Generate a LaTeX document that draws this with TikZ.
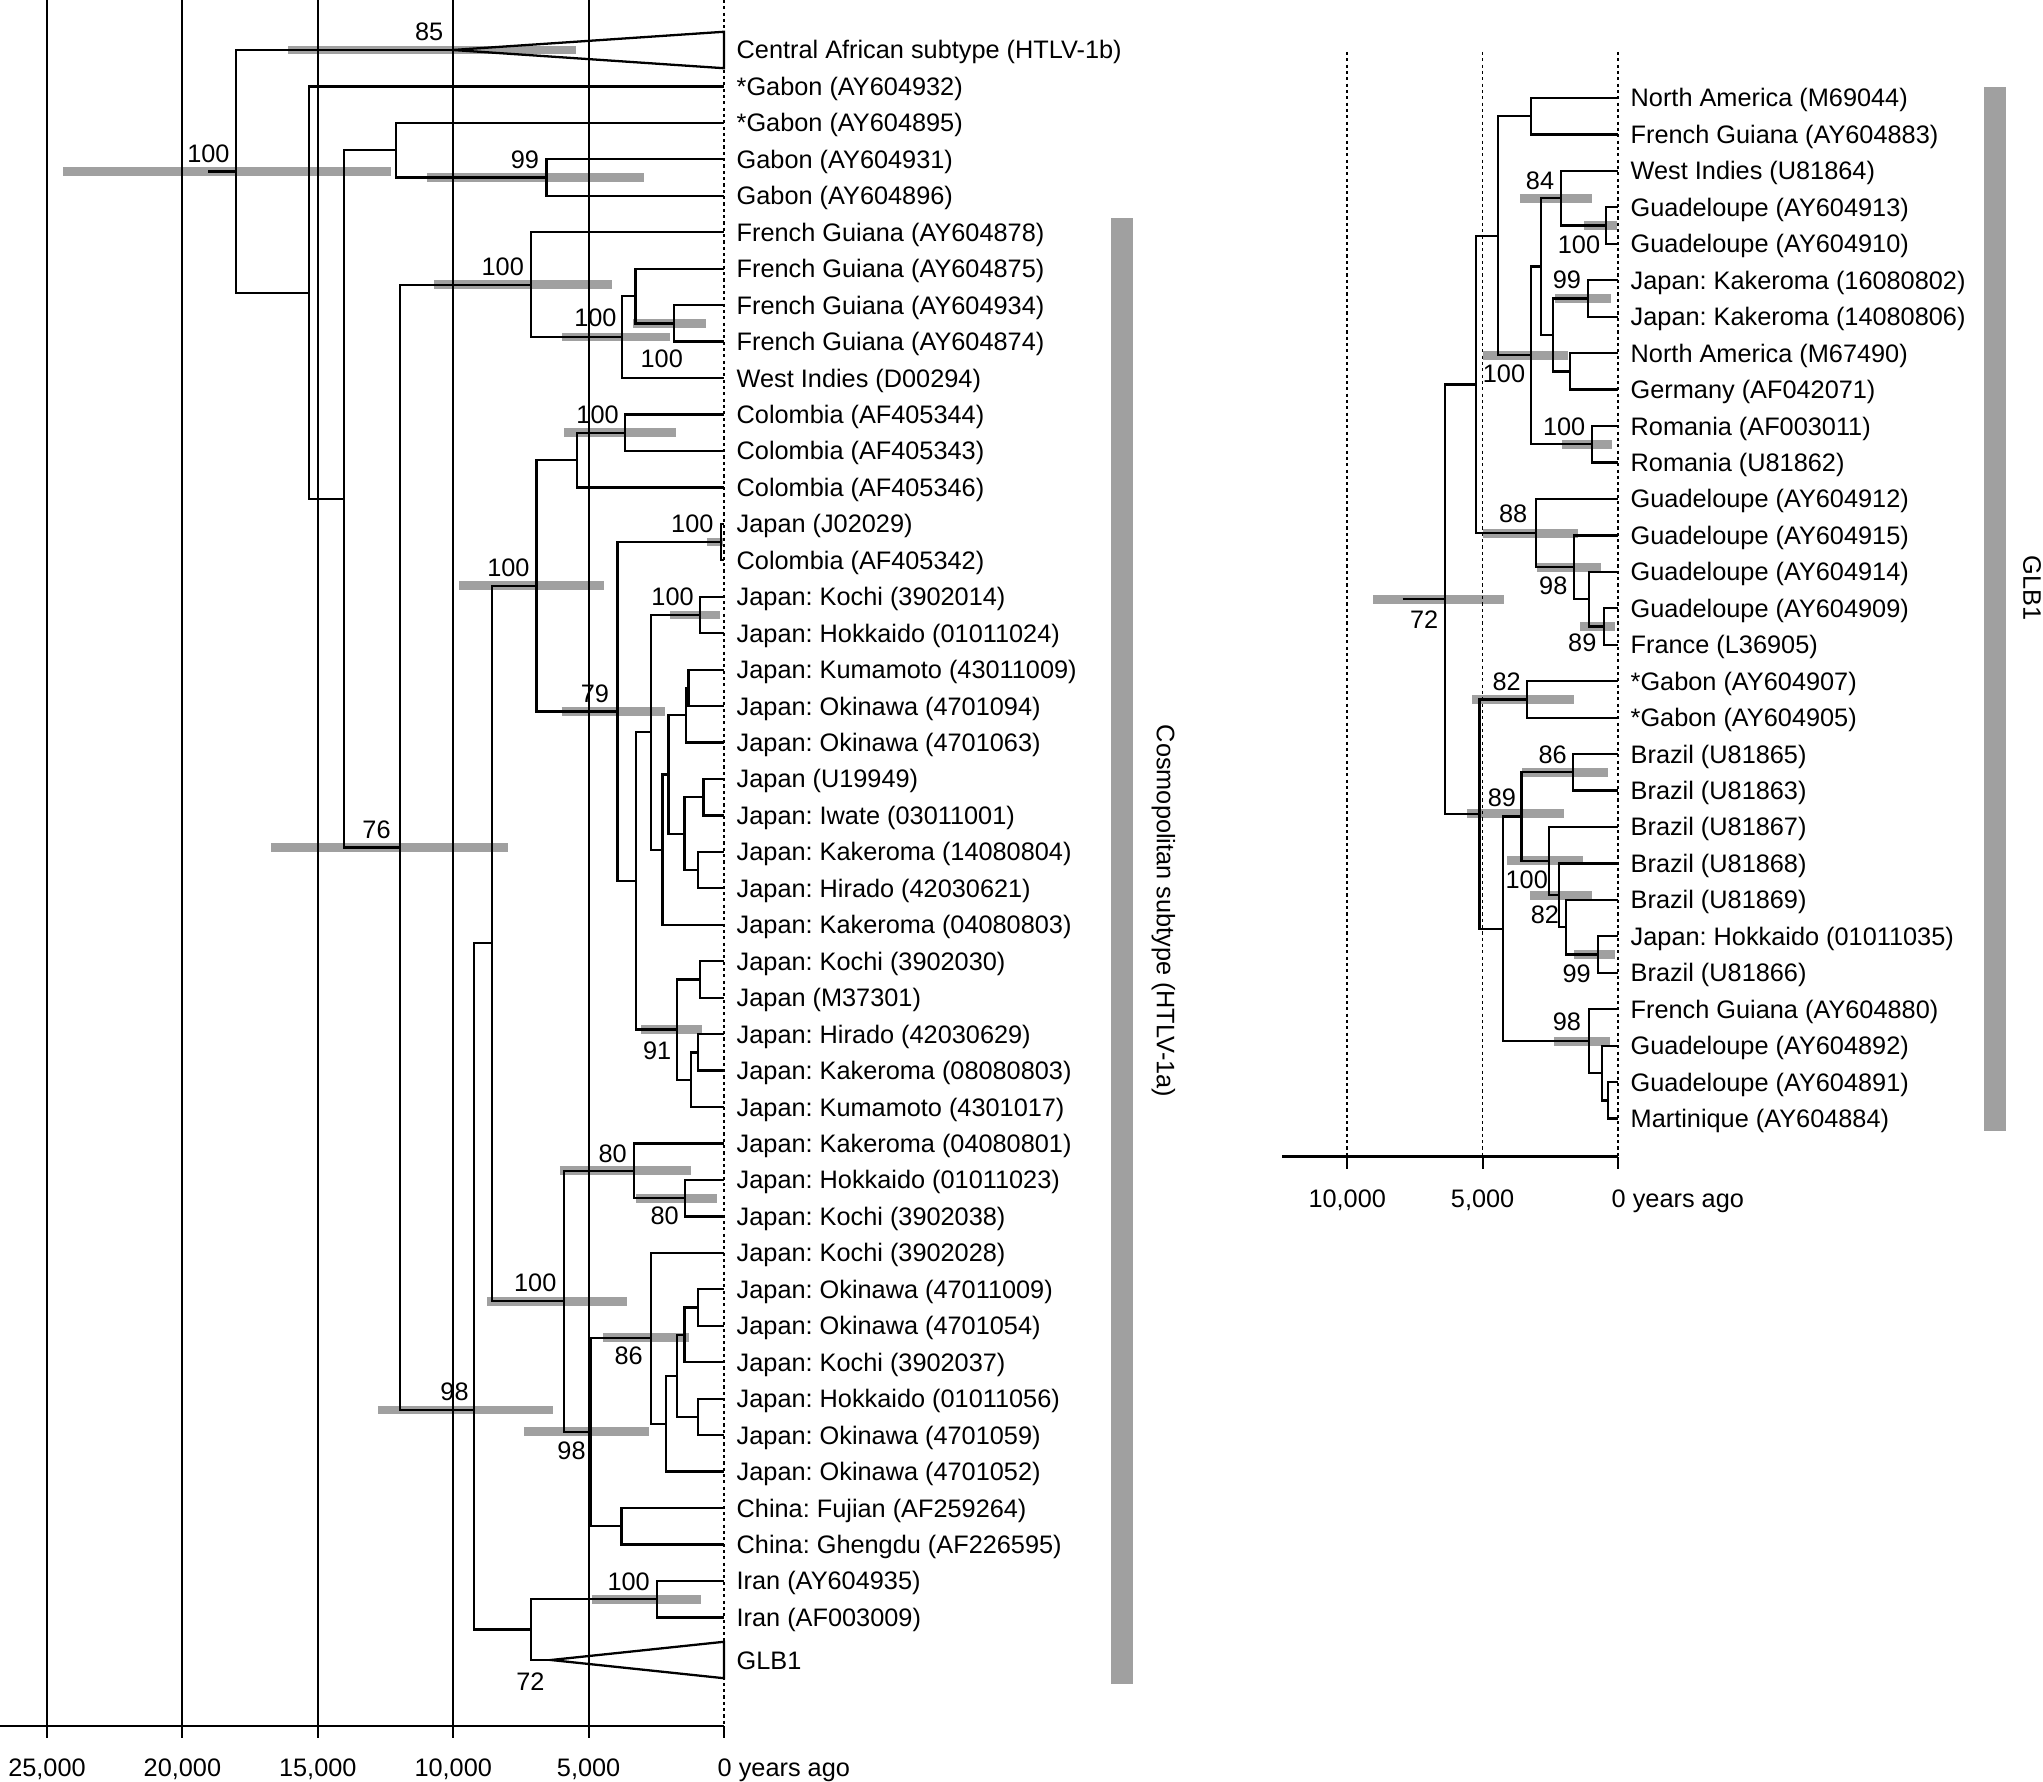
\documentclass[tikz,border=0pt]{standalone}
\usepackage{fontspec}
\setmainfont{Liberation Sans}
\frenchspacing
\definecolor{hpdgrey}{RGB}{160,160,160}
\tikzset{
  lefttree/.style={shift={(7.24cm,-0.1355cm)},x={(-0.2708cm,0cm)},y={(0cm,-0.3645cm)}},
  righttree/.style={shift={(16.18cm,-0.6155cm)},x={(-0.2708cm,0cm)},y={(0cm,-0.3645cm)}},
  branch/.style={line width=0.65pt},
  hpd/.style={hpdgrey,line width=0.088cm},
  gridline/.style={line width=0.6pt},
  zeroline/.style={line width=0.5pt,dash pattern=on 0.9pt off 0.9pt},
  axisline/.style={line width=0.75pt},
  taxon/.style={anchor=base west,xshift=0.12cm,yshift=-0.09cm},
  support/.style={anchor=center},
  ticklab/.style={anchor=base},
}

\begin{document}
\begin{tikzpicture}[every node/.style={inner sep=0pt,font=\fontsize{7.2}{8.6}\selectfont}]
\useasboundingbox (0,0) rectangle (20.43,-17.82);

% left tree: nodes (age in kyr, row) and HPD bars
\begin{scope}[lefttree]
  \foreach \i in {1,...,44} \coordinate (L\i) at (0,\i);
  \coordinate (L45) at (0,45.17);
  \coordinate (rootstub) at (19.05,4.33);
  \coordinate (root) at (18.02,4.33);
  \coordinate (ca) at (10.01,1);
  \coordinate (n2) at (15.33,7.66);
  \coordinate (n3) at (14.03,13.31);
  \coordinate (n4) at (12.11,3.75);
  \coordinate (n99) at (6.56,4.5);
  \coordinate (n76) at (11.96,22.88);
  \coordinate (nfg) at (7.13,7.44);
  \coordinate (nfg2) at (3.77,8.875);
  \coordinate (nfg3) at (3.27,7.75);
  \coordinate (nfg4) at (1.85,8.5);
  \coordinate (n98) at (9.23,38.31);
  \coordinate (nx) at (8.57,25.5);
  \coordinate (n100b) at (6.92,15.7);
  \coordinate (ncol) at (5.42,12.25);
  \coordinate (n100d) at (3.66,11.5);
  \coordinate (n79) at (3.93,19.15);
  \coordinate (n100e) at (0.12,14.5);
  \coordinate (nA) at (3.24,23.8);
  \coordinate (nB) at (2.69,19.72);
  \coordinate (n100f) at (0.89,16.5);
  \coordinate (nC) at (2.27,22.94);
  \coordinate (nD) at (2.05,20.875);
  \coordinate (nE2) at (1.40,19.25);
  \coordinate (nE1) at (1.31,18.5);
  \coordinate (nF) at (1.46,22.5);
  \coordinate (nG) at (0.76,21.5);
  \coordinate (nH) at (0.95,23.5);
  \coordinate (n91) at (1.74,27.87);
  \coordinate (nI) at (0.89,26.5);
  \coordinate (nJ) at (1.22,29.25);
  \coordinate (nK) at (0.95,28.5);
  \coordinate (n100c) at (5.91,35.33);
  \coordinate (n80a) at (3.33,31.75);
  \coordinate (n80b) at (1.44,32.5);
  \coordinate (n98b) at (4.9,38.91);
  \coordinate (n86) at (2.7,36.33);
  \coordinate (nL) at (2.14,38.69);
  \coordinate (nM) at (1.74,37.375);
  \coordinate (nO) at (1.46,36.25);
  \coordinate (nN) at (0.95,35.5);
  \coordinate (nP) at (0.95,38.5);
  \coordinate (nchina) at (3.79,41.5);
  \coordinate (n72) at (7.14,44.33);
  \coordinate (n100g) at (2.48,43.5);
  \coordinate (glb) at (6.39,45.17);
  \foreach \a/\b/\r in {24.41/12.3/4.33, 16.1/5.47/1, 10.98/2.97/4.5, 16.73/7.99/22.88,
      10.71/4.13/7.44, 5.98/2.01/8.875, 3.36/0.66/8.5, 12.78/6.3/38.31, 9.79/4.43/15.7,
      5.91/1.77/11.5, 6.0/2.18/19.15, 0.63/0.04/14.5, 1.99/0.15/16.5, 3.06/0.8/27.87,
      8.75/3.59/35.33, 6.06/1.22/31.75, 3.25/0.26/32.5, 7.39/2.78/38.91, 4.47/1.31/36.33,
      4.89/0.85/43.5}
    \draw[hpd] (\a,\r) -- (\b,\r);
\end{scope}

% right tree (GLB1): nodes and HPD bars
\begin{scope}[righttree]
  \foreach \i in {1,...,29} \coordinate (R\i) at (0,\i);
  \coordinate (rstub) at (7.95,14.75);
  \coordinate (rroot) at (6.39,14.75);
  \coordinate (ru) at (5.24,8.86);
  \coordinate (ru1) at (4.42,4.78);
  \coordinate (ra) at (3.22,1.5);
  \coordinate (rb) at (3.22,8.06);
  \coordinate (rc) at (2.84,5.625);
  \coordinate (r84) at (2.1,3.75);
  \coordinate (r100a) at (0.45,4.5);
  \coordinate (rd) at (2.39,7.5);
  \coordinate (r99) at (1.12,6.5);
  \coordinate (re) at (1.77,8.5);
  \coordinate (r100b) at (0.97,10.5);
  \coordinate (r88) at (3.04,12.94);
  \coordinate (r98) at (1.62,13.875);
  \coordinate (rf) at (1.07,14.75);
  \coordinate (r89) at (0.51,15.5);
  \coordinate (rl) at (5.12,20.64);
  \coordinate (r82) at (3.37,17.5);
  \coordinate (rg) at (4.26,23.79);
  \coordinate (rh) at (3.56,20.715);
  \coordinate (r86) at (1.65,19.5);
  \coordinate (r100c) at (2.55,21.93);
  \coordinate (r82b) at (2.17,22.875);
  \coordinate (ri) at (1.93,23.75);
  \coordinate (r99b) at (0.73,24.5);
  \coordinate (r98b) at (1.06,26.875);
  \coordinate (rj) at (0.6,27.75);
  \coordinate (rk) at (0.36,28.5);
  \foreach \a/\b/\r in {9.04/4.21/14.75, 5.0/1.84/8.06, 3.62/0.97/3.75, 1.26/0.03/4.5,
      2.33/0.27/6.5, 2.07/0.21/10.5, 4.97/1.47/12.94, 3.0/0.64/13.875, 1.4/0.11/15.5,
      5.57/1.99/20.64, 5.38/1.61/17.5, 3.53/0.36/19.5, 4.09/1.28/21.93, 3.25/0.95/22.875,
      1.62/0.11/24.5, 2.36/0.3/26.875}
    \draw[hpd] (\a,\r) -- (\b,\r);
\end{scope}

% time axes
\foreach \k/\t in {25/{25,000},20/{20,000},15/{15,000},10/{10,000},5/{5,000}} {
  \draw[gridline] ({7.24-0.2708*\k},0) -- ({7.24-0.2708*\k},-17.38);
  \node[ticklab] (lt\k) at ({7.24-0.2708*\k},-17.76) {\t};
}
\draw[zeroline] (7.24,0) -- (7.24,-17.26);
\draw[gridline] (7.24,-17.26) -- (7.24,-17.38);
\draw[axisline] (0,-17.26) -- (7.24,-17.26);
\node[anchor=base west] (lt0) at (7.17,-17.76) {0 years ago};

\foreach \k/\t in {10/{10,000},5/{5,000}} {
  \draw[zeroline] ({16.18-0.2708*\k},-0.52) -- ({16.18-0.2708*\k},-11.566);
  \draw[gridline] ({16.18-0.2708*\k},-11.566) -- ({16.18-0.2708*\k},-11.69);
  \node[ticklab] (rt\k) at ({16.18-0.2708*\k},-12.08) {\t};
}
\draw[zeroline] (16.18,-0.52) -- (16.18,-11.566);
\draw[gridline] (16.18,-11.566) -- (16.18,-11.69);
\draw[axisline] (12.823,-11.566) -- (16.18,-11.566);
\node[anchor=base west] (rt0) at (16.11,-12.08) {0 years ago};

% clade bars
\fill[hpdgrey] (11.107,-2.18) rectangle (11.333,-16.84);
\node[rotate=-90] (cosmo) at (11.634,-9.11) {Cosmopolitan subtype (HTLV-1a)};
\fill[hpdgrey] (19.835,-0.875) rectangle (20.06,-11.315);
\node[rotate=-90] (glbname) at (20.32,-5.88) {GLB1};

% left tree: branches and labels
\begin{scope}[lefttree]
  \draw[branch] (rootstub) -- (root);
  \foreach \p/\c in {root/ca, root/n2, n2/L2, n2/n3, n3/n4, n3/n76, n4/L3, n4/n99,
      n99/L4, n99/L5, n76/nfg, n76/n98, nfg/L6, nfg/nfg2, nfg2/nfg3, nfg2/L10,
      nfg3/L7, nfg3/nfg4, nfg4/L8, nfg4/L9, n98/nx, n98/n72, nx/n100b, nx/n100c,
      n100b/ncol, n100b/n79, ncol/n100d, ncol/L13, n100d/L11, n100d/L12,
      n79/n100e, n79/nA, n100e/L14, n100e/L15, nA/nB, nA/n91, nB/n100f, nB/nC,
      n100f/L16, n100f/L17, nC/nD, nC/L25, nD/nE2, nD/nF, nE2/nE1, nE2/L20,
      nE1/L18, nE1/L19, nF/nG, nF/nH, nG/L21, nG/L22, nH/L23, nH/L24,
      n91/nI, n91/nJ, nI/L26, nI/L27, nJ/nK, nJ/L30, nK/L28, nK/L29,
      n100c/n80a, n100c/n98b, n80a/L31, n80a/n80b, n80b/L32, n80b/L33,
      n98b/n86, n98b/nchina, n86/L34, n86/nL, nL/nM, nL/L40, nM/nO, nM/nP,
      nO/nN, nO/L37, nN/L35, nN/L36, nP/L38, nP/L39, nchina/L41, nchina/L42,
      n72/n100g, n72/glb, n100g/L43, n100g/L44}
    \draw[branch] (\p) |- (\c);
  \draw[branch] (ca) -- (0,0.5) -- (0,1.5) -- cycle;
  \draw[branch] (glb) -- (0,44.67) -- (0,45.67) -- cycle;
  % posterior support
  \foreach \a/\r/\s [count=\k] in {10.89/0.51/85, 19.04/3.85/100, 7.35/4.02/99,
      8.17/6.94/100, 4.75/8.36/100, 2.3/9.46/100, 4.67/11.01/100, 1.17/14.01/100,
      7.96/15.21/100, 1.9/15.99/100, 4.77/18.66/79, 12.83/22.4/76, 2.47/28.47/91,
      4.11/31.27/80, 2.19/32.99/80, 6.97/34.82/100, 3.52/36.83/86, 9.95/37.81/98,
      5.63/39.43/98, 3.52/43.02/100, 7.15/45.77/72}
    \node[support] (lp\k) at (\a,\r) {\s};
  \foreach \i/\t in {1/Central African subtype (HTLV-1b), 2/*Gabon (AY604932),
      3/*Gabon (AY604895), 4/Gabon (AY604931), 5/Gabon (AY604896),
      6/French Guiana (AY604878), 7/French Guiana (AY604875),
      8/French Guiana (AY604934), 9/French Guiana (AY604874),
      10/West Indies (D00294), 11/Colombia (AF405344), 12/Colombia (AF405343),
      13/Colombia (AF405346), 14/Japan (J02029), 15/Colombia (AF405342),
      16/Japan: Kochi (3902014), 17/Japan: Hokkaido (01011024),
      18/Japan: Kumamoto (43011009), 19/Japan: Okinawa (4701094),
      20/Japan: Okinawa (4701063), 21/Japan (U19949), 22/Japan: Iwate (03011001),
      23/Japan: Kakeroma (14080804), 24/Japan: Hirado (42030621),
      25/Japan: Kakeroma (04080803), 26/Japan: Kochi (3902030), 27/Japan (M37301),
      28/Japan: Hirado (42030629), 29/Japan: Kakeroma (08080803),
      30/Japan: Kumamoto (4301017), 31/Japan: Kakeroma (04080801),
      32/Japan: Hokkaido (01011023), 33/Japan: Kochi (3902038),
      34/Japan: Kochi (3902028), 35/Japan: Okinawa (47011009),
      36/Japan: Okinawa (4701054), 37/Japan: Kochi (3902037),
      38/Japan: Hokkaido (01011056), 39/Japan: Okinawa (4701059),
      40/Japan: Okinawa (4701052), 41/China: Fujian (AF259264),
      42/China: Ghengdu (AF226595), 43/Iran (AY604935), 44/Iran (AF003009), 45/GLB1}
    \node[taxon] (lt\i) at (L\i) {\t};
\end{scope}

% right tree: branches and labels
\begin{scope}[righttree]
  \draw[branch] (rstub) -- (rroot);
  \foreach \p/\c in {rroot/ru, rroot/rl, ru/ru1, ru/r88, ru1/ra, ru1/rb, ra/R1, ra/R2,
      rb/rc, rb/r100b, rc/r84, rc/rd, r84/R3, r84/r100a, r100a/R4, r100a/R5,
      rd/r99, rd/re, r99/R6, r99/R7, re/R8, re/R9, r100b/R10, r100b/R11,
      r88/R12, r88/r98, r98/R13, r98/rf, rf/R14, rf/r89, r89/R15, r89/R16,
      rl/r82, rl/rg, r82/R17, r82/R18, rg/rh, rg/r98b, rh/r86, rh/r100c,
      r86/R19, r86/R20, r100c/R21, r100c/r82b, r82b/R22, r82b/ri, ri/R23, ri/r99b,
      r99b/R24, r99b/R25, r98b/R26, r98b/rj, rj/R27, rj/rk, rk/R28, rk/R29}
    \draw[branch] (\p) |- (\c);
  \foreach \a/\r/\s [count=\k] in {2.88/3.27/84, 1.44/5.04/100, 1.89/5.99/99,
      4.21/8.57/100, 1.99/10.01/100, 3.87/12.42/88, 2.39/14.39/98, 7.16/15.31/72,
      1.32/15.96/89, 4.11/17.01/82, 2.41/19.02/86, 4.29/20.21/89, 3.37/22.45/100,
      2.7/23.41/82, 1.53/25.03/99, 1.89/26.34/98}
    \node[support] (rp\k) at (\a,\r) {\s};
  \foreach \i/\t in {1/North America (M69044), 2/French Guiana (AY604883),
      3/West Indies (U81864), 4/Guadeloupe (AY604913), 5/Guadeloupe (AY604910),
      6/Japan: Kakeroma (16080802), 7/Japan: Kakeroma (14080806),
      8/North America (M67490), 9/Germany (AF042071), 10/Romania (AF003011),
      11/Romania (U81862), 12/Guadeloupe (AY604912), 13/Guadeloupe (AY604915),
      14/Guadeloupe (AY604914), 15/Guadeloupe (AY604909), 16/France (L36905),
      17/*Gabon (AY604907), 18/*Gabon (AY604905), 19/Brazil (U81865),
      20/Brazil (U81863), 21/Brazil (U81867), 22/Brazil (U81868),
      23/Brazil (U81869), 24/Japan: Hokkaido (01011035), 25/Brazil (U81866),
      26/French Guiana (AY604880), 27/Guadeloupe (AY604892),
      28/Guadeloupe (AY604891), 29/Martinique (AY604884)}
    \node[taxon] (rt\i) at (R\i) {\t};
\end{scope}
\end{tikzpicture}
\end{document}
